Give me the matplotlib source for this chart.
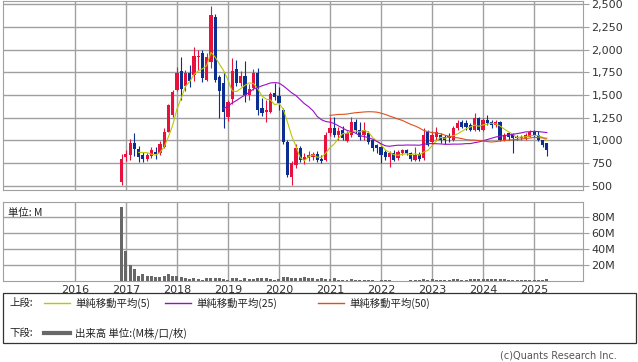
"""
Monthly candlestick chart with SMA(5/25/50) and volume panel.
"""
import numpy as np
import pandas as pd
import matplotlib; matplotlib.use('Agg')
import matplotlib.pyplot as plt
from matplotlib.patches import Rectangle

CJK = ['Noto Sans CJK JP', 'DejaVu Sans']

# ── Data (monthly, Dec 2016 .. Apr 2025) ──────────────────────────
first_month = '2016-12'
opens = [540, 820, 841, 972, 907, 840, 793, 830, 870, 866,
         932, 1097, 1280, 1555, 1764, 1600, 1745, 1720, 1915, 1958,
         1665, 1866, 2353, 1694, 1628, 1262, 1456, 1782, 1628, 1709,
         1500, 1573, 1738, 1353, 1317, 1317, 1518, 1489, 1335, 987,
         603, 731, 914, 786, 804, 815, 850, 800, 786, 1079,
         1133, 1060, 1110, 990, 1061, 1207, 1115, 1061, 1079, 1006,
         951, 932, 877, 822, 859, 804, 859, 896, 860, 786,
         850, 804, 1097, 987, 1042, 1061, 1042, 1050, 1005, 1134,
         1200, 1190, 1170, 1115, 1244, 1120, 1230, 1200, 1170, 1200,
         1005, 1079, 1060, 1042, 1024, 1024, 1042, 1097, 1061, 1005,
         969]
highs = [850, 900, 1016, 1082, 935, 870, 860, 930, 930, 990,
         1135, 1400, 1555, 1810, 1914, 1775, 1830, 2030, 2000, 1995,
         1960, 2478, 2390, 1720, 1756, 1450, 1903, 1885, 1760, 1875,
         1620, 1790, 1793, 1463, 1440, 1537, 1630, 1592, 1360, 1000,
         770, 960, 940, 860, 880, 870, 880, 840, 1090, 1262,
         1262, 1150, 1160, 1100, 1262, 1240, 1207, 1207, 1100, 1010,
         960, 940, 900, 880, 900, 900, 910, 910, 870, 932,
         870, 1134, 1110, 1100, 1152, 1080, 1060, 1080, 1160, 1230,
         1230, 1220, 1190, 1300, 1260, 1250, 1280, 1230, 1220, 1210,
         1080, 1090, 1080, 1060, 1060, 1080, 1110, 1120, 1100, 1010,
         970]
lows = [515, 770, 790, 830, 760, 760, 780, 810, 800, 840,
        920, 1090, 1262, 1540, 1445, 1540, 1590, 1650, 1780, 1640,
        1650, 1800, 1640, 1250, 1141, 1214, 1400, 1600, 1600, 1420,
        1450, 1560, 1280, 1270, 1207, 1300, 1440, 1335, 960, 600,
        511, 700, 760, 740, 780, 790, 760, 750, 780, 1050,
        1040, 1000, 1000, 980, 1040, 1080, 1000, 1006, 960, 880,
        860, 750, 786, 712, 770, 790, 840, 840, 770, 770,
        780, 790, 940, 950, 1000, 969, 960, 980, 990, 1120,
        1140, 1120, 1100, 1100, 1100, 1100, 1170, 1140, 1150, 990,
        990, 1000, 860, 1000, 1000, 1010, 1040, 1040, 990, 930,
        833]
closes = [800, 850, 976, 907, 815, 793, 840, 896, 850, 962,
          1097, 1390, 1536, 1738, 1562, 1745, 1650, 1929, 1930, 1685,
          1920, 2379, 1665, 1548, 1317, 1427, 1767, 1628, 1709, 1500,
          1562, 1738, 1335, 1306, 1335, 1511, 1482, 1408, 987, 621,
          749, 914, 786, 822, 841, 850, 790, 770, 1060, 1133,
          1060, 1100, 1024, 1080, 1207, 1115, 1042, 1115, 987, 914,
          914, 841, 822, 859, 786, 877, 896, 859, 800, 841,
          800, 1061, 951, 1061, 1097, 1006, 1006, 1024, 1134, 1189,
          1152, 1150, 1115, 1244, 1120, 1230, 1190, 1170, 1200, 1005,
          1060, 1042, 1030, 1024, 1042, 1061, 1097, 1061, 1005, 950,
          896]
volume_m = [93, 38, 19.6, 15.4, 5.8, 9.2, 6.7, 5.8, 5.4, 4.6,
            6.3, 9.2, 6.7, 6.3, 5.0, 4.2, 2.9, 4.2, 2.9, 1.7,
            4.2, 4.2, 4.2, 3.7, 2.5, 1.7, 3.7, 3.3, 1.7, 3.7,
            2.0, 2.9, 4.2, 3.3, 3.7, 2.9, 1.7, 2.9, 4.6, 5.4,
            4.2, 4.2, 4.2, 5.4, 4.2, 3.3, 2.9, 4.2, 2.9, 2.9,
            4.2, 1.7, 1.2, 1.0, 2.5, 1.0, 0.8, 0.8, 0.7, 0.7,
            0.6, 0.8, 0.7, 0.8, 0.6, 0.6, 0.6, 0.6, 0.7, 0.7,
            0.8, 2.0, 1.5, 2.2, 1.2, 1.2, 1.8, 1.8, 2.0, 2.2,
            1.5, 1.8, 2.0, 3.0, 2.5, 2.8, 2.0, 3.0, 2.5, 2.8,
            2.5, 1.5, 1.5, 1.0, 1.0, 0.8, 1.0, 0.8, 1.0, 1.8,
            2.0]
years       = [2016, 2017, 2018, 2019, 2020, 2021, 2022, 2023, 2024, 2025]
price_ticks = [500, 750, 1000, 1250, 1500, 1750, 2000, 2250, 2500]
vol_ticks   = [20, 40, 60, 80]
sma_periods = [5, 25, 50]
sma_colors  = ['#b9c800', '#9a10c8', '#e0501e']
legend_labels = ['単純移動平均(5)', '単純移動平均(25)', '単純移動平均(50)']

o, h, l, c = (np.array(a, dtype=float) for a in (opens, highs, lows, closes))
x = np.arange(len(c))
start = pd.Period(first_month, 'M')
year_x = [(pd.Period(f'{y}-01', 'M') - start).n for y in years]

UP, DOWN = '#e8103c', '#0b2f8e'
GRID = '#a0a0a0'

fig = plt.figure(figsize=(6.38, 3.62), dpi=100)
W, H = 638, 362
ax  = fig.add_axes([3/W, 1 - 190/H, 580/W, 189/H])
axv = fig.add_axes([3/W, 1 - 281/H, 580/W, 79/H])

# ── Price panel ───────────────────────────────────────────────────
up = c >= o
col = np.where(up, UP, DOWN)
ax.vlines(x, l, h, colors=col, lw=0.8, zorder=3)
body = np.maximum(np.abs(c - o), 10)
ax.bar(x, body, bottom=np.minimum(o, c), width=0.75, color=col, lw=0, zorder=4)

close_s = pd.Series(c)
for n, colr in zip(sma_periods, sma_colors):
    ax.plot(x, close_s.rolling(n).mean(), color=colr, lw=0.8, zorder=5)

ax.set_xlim(-27.9, 108.5)
ax.set_ylim(456, 2533)
ax.set_xticks(year_x)
ax.set_yticks(price_ticks)
ax.set_yticklabels([f'{v:,}' for v in price_ticks])
ax.yaxis.tick_right()
ax.tick_params(axis='x', length=0, labelbottom=False)
ax.tick_params(axis='y', length=4, color=GRID, labelsize=8, labelcolor='#333333', pad=2)
ax.grid(True, color=GRID, lw=1)
ax.set_axisbelow(True)
for s in ax.spines.values():
    s.set_color(GRID)

# ── Volume panel ──────────────────────────────────────────────────
axv.bar(x, volume_m, width=0.7, color='#686868', lw=0, zorder=3)
axv.set_xlim(-27.9, 108.5)
axv.set_ylim(0, 99)
axv.set_xticks(year_x)
axv.set_xticklabels([str(y) for y in years])
axv.set_yticks(vol_ticks)
axv.set_yticklabels([f'{v}M' for v in vol_ticks])
axv.yaxis.tick_right()
axv.tick_params(axis='x', length=0, labelsize=8, labelcolor='#333333', pad=3)
axv.tick_params(axis='y', length=4, color=GRID, labelsize=8, labelcolor='#333333', pad=2)
axv.grid(True, color=GRID, lw=1)
axv.set_axisbelow(True)
for s in axv.spines.values():
    s.set_color(GRID)
axv.text(0.008, 0.93, '単位: M', transform=axv.transAxes, ha='left', va='top',
         fontsize=7.5, family=CJK, color='#222222')

# ── Legend box (pixel coordinates) ────────────────────────────────
ov = fig.add_axes([0, 0, 1, 1])
ov.set_xlim(0, W); ov.set_ylim(H, 0); ov.axis('off')
ov.add_patch(Rectangle((3, 293), 633, 50, fill=False, edgecolor='#333333', lw=0.9))
ov.text(9, 303, '上段:', fontsize=7.5, family=CJK, va='center', color='#222222')
for x0, colr, lab in zip([44, 165, 318], sma_colors, legend_labels):
    ov.plot([x0, x0 + 26], [303, 303], color=colr, lw=1)
    ov.text(x0 + 31, 303, lab, fontsize=7.5, family=CJK, va='center', color='#222222')
ov.text(9, 333, '下段:', fontsize=7.5, family=CJK, va='center', color='#222222')
ov.plot([44, 70], [333, 333], color='#686868', lw=3)
ov.text(75, 333, '出来高 単位:(M株/口/枚)', fontsize=7.5, family=CJK, va='center', color='#222222')
ov.text(617, 356, '(c)Quants Research Inc.', fontsize=7, ha='right', va='center', color='#555555')

plt.savefig('out.png', dpi=100)
plt.close()
